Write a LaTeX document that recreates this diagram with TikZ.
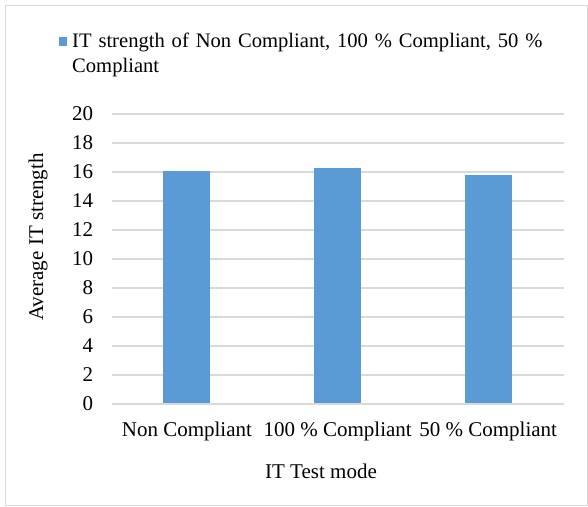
\documentclass[tikz,border=0pt]{standalone}
\usepackage{fontspec}
\setmainfont{Liberation Serif}
\usepackage{tikz}

\definecolor{barblue}{HTML}{5B9BD5}
\definecolor{gridgray}{HTML}{D9D9D9}

\begin{document}
\begin{tikzpicture}[x=1pt,y=-1pt,
  every node/.style={font=\fontsize{21}{25}\selectfont, inner sep=0pt},
  bar/.style={fill=barblue, draw=none},
  grid/.style={draw=gridgray, line width=1.3pt}]
  \useasboundingbox (0,0) rectangle (588,506);
  \draw[gridgray, line width=1pt] (5.5,5.5) rectangle (587,505.3);
  % legend
  \fill[barblue] (58.5,37.3) rectangle (67,46.3);
  \node[anchor=north west, align=left, text width=490pt,
        font=\fontsize{20.6}{25}\selectfont] (legend) at (72,33)
    {IT strength of Non Compliant, 100 \% Compliant, 50 \%\\Compliant};
  % plot area: origin at the 0 line, one unit = 14.5pt
  \begin{scope}[shift={(111.7,404)}, x=1pt, y=14.5pt]
    \foreach \v in {2,4,...,20}
      \draw[grid] (0,\v) -- (452,\v);
    \foreach \v in {0,2,...,20}
      \node[anchor=east] (tick\v) at (-18.5,\v) {\v};
    \fill[bar] (51.6,0) rectangle (98.6,16.05);
    \fill[bar] (202.3,0) rectangle (249.3,16.25);
    \fill[bar] (353.6,0) rectangle (400.6,15.8);
    \draw[grid] (0,0) -- (452,0);
    \node (cat1) at (75.2,-1.9) {Non Compliant};
    \node (cat2) at (226,-1.9) {100 \% Compliant};
    \node (cat3) at (376.5,-1.9) {50 \% Compliant};
  \end{scope}
  \node (xlabel) at (321,471) {IT Test mode};
  \node[rotate=90] (ylabel) at (38,237) {Average IT strength};
\end{tikzpicture}
\end{document}
